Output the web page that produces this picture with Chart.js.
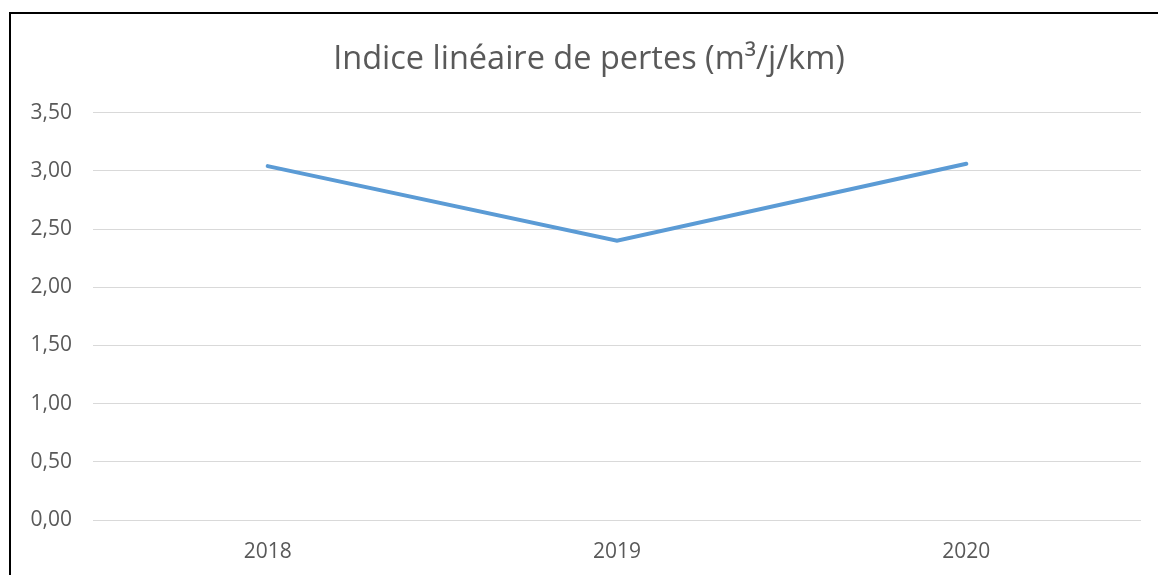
<!DOCTYPE html>
<html>
<head>
<meta charset="utf-8">
<script src="https://cdn.jsdelivr.net/npm/chart.js@4/dist/chart.umd.min.js"></script>
<style>
  html, body { margin: 0; padding: 0; background: #fff; overflow: hidden; }
  #wrap { position: relative; width: 1158px; height: 575px; }
  #c { position: absolute; left: 0; top: 0; }
  #frame { position: absolute; left: 9px; top: 12px; width: 1200px; height: 600px;
           border-left: 2px solid #000; border-top: 2px solid #000; pointer-events: none; }
</style>
</head>
<body>
<div id="wrap">
  <canvas id="c" width="1158" height="575"></canvas>
  <div id="frame"></div>
</div>
<script>
const categories = ['2018', '2019', '2020'];
const values = [3.04, 2.40, 3.06];
const yTicks = [0, 0.5, 1, 1.5, 2, 2.5, 3, 3.5];
const titleText = 'Indice linéaire de pertes (m³/j/km)';

const textColor = '#595959';
const fontFamily = '"Open Sans", sans-serif';

const shiftTitle = {
  id: 'shiftTitle',
  afterLayout(chart) {
    const t = chart.titleBlock;
    if (t) { t.left += 4; t.right += 4; }
  }
};

new Chart(document.getElementById('c'), {
  type: 'line',
  data: {
    labels: categories,
    datasets: [{
      data: values,
      borderColor: '#5b9bd5',
      borderWidth: 4,
      pointRadius: 0,
      pointHoverRadius: 0,
      tension: 0,
      fill: false,
      borderCapStyle: 'round',
      borderJoinStyle: 'miter'
    }]
  },
  plugins: [shiftTitle],
  options: {
    responsive: false,
    animation: false,
    devicePixelRatio: 1,
    layout: { padding: { top: 40, left: 29, right: 17, bottom: 0 } },
    plugins: {
      legend: { display: false },
      tooltip: { enabled: false },
      title: {
        display: true,
        text: titleText,
        color: textColor,
        font: { family: fontFamily, size: 32.5, weight: 'normal' },
        padding: { top: 0, bottom: 33.6 }
      }
    },
    scales: {
      x: {
        offset: true,
        grid: { display: false, drawTicks: false },
        border: { display: false },
        ticks: { color: textColor, font: { family: fontFamily, size: 21 }, padding: 19 },
        afterFit: s => { s.height = 55; }
      },
      y: {
        min: 0,
        max: 3.5,
        afterBuildTicks: s => { s.ticks = yTicks.map(v => ({ value: v })); },
        grid: { color: '#d9d9d9', lineWidth: 1, drawTicks: false },
        border: { display: false },
        ticks: {
          color: textColor,
          font: { family: fontFamily, size: 21 },
          padding: 21,
          callback: v => Number(v).toFixed(2).replace('.', ',')
        },
        afterFit: s => { s.width = 64; }
      }
    }
  }
});
</script>
</body>
</html>
